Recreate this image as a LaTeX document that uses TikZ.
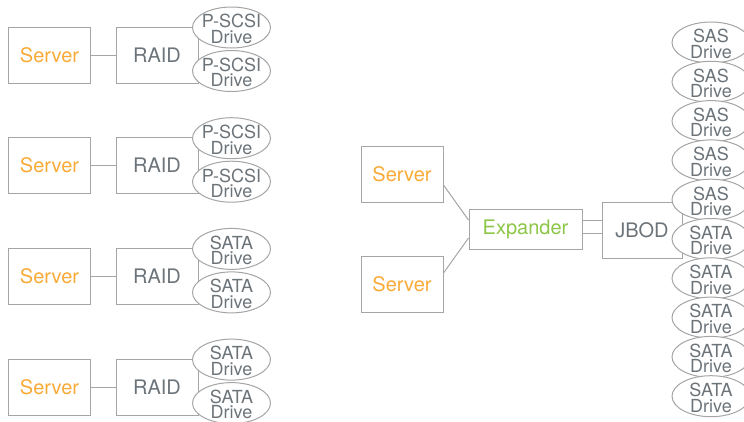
\documentclass[tikz,border=0pt]{standalone}
\usepackage{fontspec}
\setmainfont{TeX Gyre Heros}
\usetikzlibrary{shapes.geometric}

\definecolor{servercol}{RGB}{250,170,55}
\definecolor{expcol}{RGB}{141,198,70}
\definecolor{txtgray}{RGB}{108,116,122}
\definecolor{linegray}{RGB}{165,165,165}

\tikzset{
	box/.style={draw=linegray, line width=1pt, minimum width=82pt, minimum height=56pt,
		inner sep=0pt, text=txtgray, font=\fontsize{20}{23}\selectfont},
	server/.style={box, text=servercol},
	drive/.style={ellipse, draw=linegray, line width=1pt, fill=white,
		minimum width=78pt, minimum height=41pt, inner sep=0pt},
	drivetext/.style={align=center, inner sep=0pt, text=txtgray,
		font=\fontsize{18}{15.5}\selectfont},
	link/.style={draw=linegray, line width=1pt}
}

\begin{document}
\begin{tikzpicture}[x=1pt, y=-1pt]
	\useasboundingbox (0,0) rectangle (744,421);

	% raid groups on the left
	\foreach \i/\kind in {0/P-SCSI, 1/P-SCSI, 2/SATA, 3/SATA} {
		\pgfmathsetmacro{\gy}{55+110.7*\i}
		\node[server]	(srvL\i)	at (49.5,\gy)	{Server};
		\node[box]		(raid\i)	at (157,\gy)	{RAID};
		\node[drive]	(dA\i)		at (231.5,\gy-27.5) {};
		\node[drive]	(dB\i)		at (231.5,\gy+16) {};
		\node[drivetext] at ([yshift=-1.5pt]dA\i.center) {\kind\\Drive};
		\node[drivetext] at ([yshift=-1.5pt]dB\i.center) {\kind\\Drive};
		\draw[link] (srvL\i) -- (raid\i);
	}

	% servers, expander and jbod
	\node[server]	(srv1)	at (402,174)	{Server};
	\node[server]	(srv2)	at (402,284.5)	{Server};
	\node[box, minimum width=113pt, minimum height=40pt, text=expcol]
					(exp)	at (525.5,229)	{Expander};
	\node[box, minimum width=80pt]
					(jbod)	at (642,230)	{JBOD};

	\draw[link]	([yshift=-11pt]srv1.east) -- ([yshift=9pt]exp.west);
	\draw[link]	([yshift=11.5pt]srv2.east) -- ([yshift=-9pt]exp.west);
	\draw[link]	([yshift=9pt]exp.east) -- ([yshift=9pt]exp.east -| jbod.west);
	\draw[link]	([yshift=-4pt]exp.east) -- ([yshift=-4pt]exp.east -| jbod.west);

	% drives of the jbod
	\foreach \i/\kind in {0/SAS, 1/SAS, 2/SAS, 3/SAS, 4/SAS,
			5/SATA, 6/SATA, 7/SATA, 8/SATA, 9/SATA} {
		\node[drive] (dR\i) at (711,42.5+39.3*\i) {};
		\node[drivetext] at ([yshift=-1.5pt]dR\i.center) {\kind\\Drive};
	}
\end{tikzpicture}
\end{document}
